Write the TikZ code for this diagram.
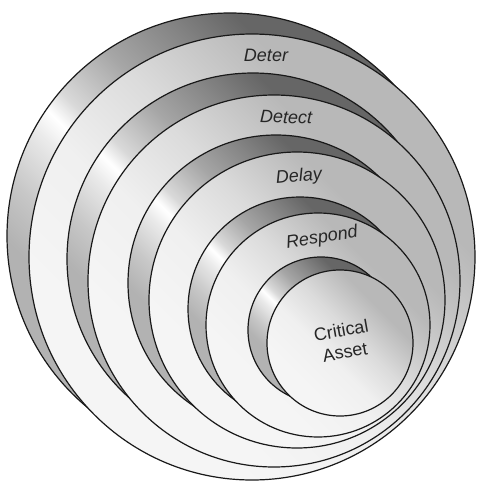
\documentclass[tikz,border=0pt]{standalone}
\usepackage{fontspec}
\setmainfont{Liberation Sans}

% shadings of the rims and of the faces
\pgfdeclarehorizontalshading{rimshade}{100bp}{color(0bp)=(black!30); color(32bp)=(black!30);
  color(37bp)=(black!22); color(43bp)=(black!8); color(45.5bp)=(white); color(48bp)=(black!15);
  color(55bp)=(black!35); color(62bp)=(black!48); color(68bp)=(black!60); color(100bp)=(black!60)}
\pgfdeclarehorizontalshading{faceshade}{100bp}{color(0bp)=(black!4); color(32bp)=(black!4);
  color(44bp)=(black!6); color(55bp)=(black!14); color(68bp)=(black!28); color(100bp)=(black!28)}

\begin{document}
\begin{tikzpicture}[x=1pt, y=-1pt, line width=1.2pt,
    disc/.style = {draw=black!90, circle, inner sep=0pt, shade, shading angle=45},
    rim/.style = {disc, shading=rimshade},
    face/.style = {disc, shading=faceshade},
    tag/.style = {text=black!85, font=\fontsize{18}{22}\selectfont}]
    \useasboundingbox (0,0) rectangle (477,483);

    % Deter
    \node[rim, minimum size=446pt] (B1) at (230,236) {};
    \node[face, minimum size=446pt] (F1) at (252,257) {};
    % Detect
    \node[rim, minimum size=372pt] (B2) at (253,259) {};
    \node[face, minimum size=372pt] (F2) at (274,281) {};
    % Delay
    \node[rim, minimum size=296pt] (B3) at (276,283) {};
    \node[face, minimum size=296pt] (F3) at (297,300) {};
    % Respond
    \node[rim, minimum size=224pt] (B4) at (300,309) {};
    \node[face, minimum size=224pt] (F4) at (318,325) {};
    % Critical Asset
    \node[rim, minimum size=146pt] (B5) at (321,330) {};
    \node[face, minimum size=146pt] (F5) at (340,343) {};

    \node[tag] (deter) at (266,55) {\itshape Deter};
    \node[tag, rotate=-2] (detect) at (286,117) {\itshape Detect};
    \node[tag, rotate=5] (delay) at (299,177) {\itshape Delay};
    \node[tag, rotate=9] (respond) at (322,238) {\itshape Respond};
    \node[tag, rotate=10, align=center, inner sep=1pt] (asset) at (343,341) {Critical\\Asset};
\end{tikzpicture}
\end{document}
